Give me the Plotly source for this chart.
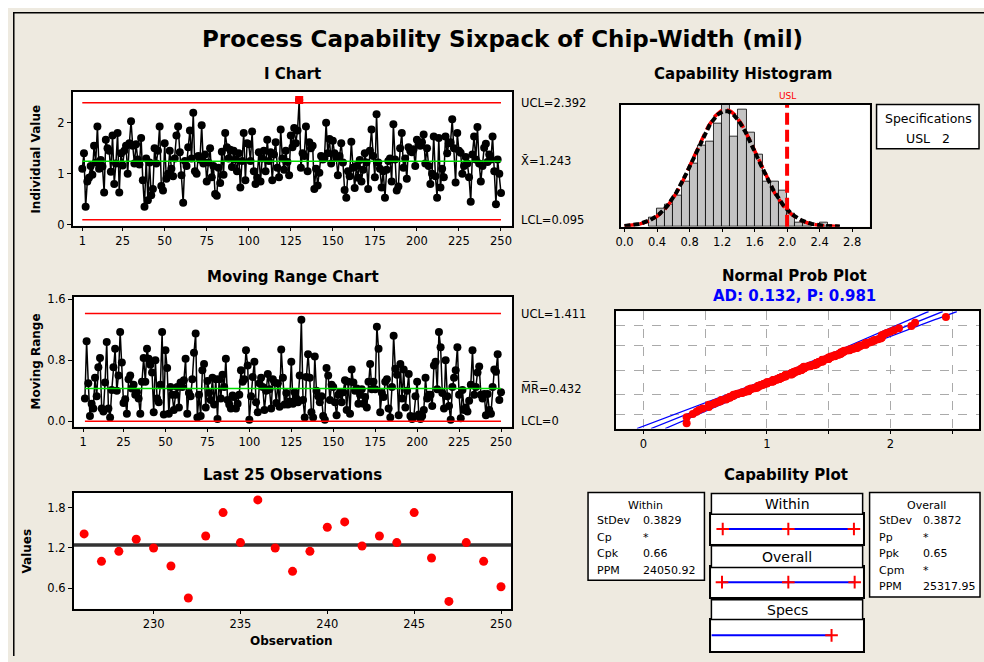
import plotly.graph_objects as go
from statistics import NormalDist

OFF = 8                    # page body margin: page pixel = figure pixel + OFF
W, H = 984 - OFF, 662 - OFF

# ---------------- data ----------------
chip_width = [
    1.10, 1.40, 0.35, 0.85, 0.92, 1.15, 0.98, 1.55, 1.22, 1.93, 1.10, 1.27, 1.14, 0.63, 1.67, 1.50, 1.45, 1.04, 1.75, 0.80, 1.20, 1.80, 0.63, 1.40, 1.16,
    1.45, 1.55, 1.00, 1.60, 2.03, 1.55, 1.20, 1.58, 1.28, 1.18, 1.70, 0.87, 0.35, 1.30, 0.48, 1.22, 0.58, 0.70, 1.50, 1.20, 1.45, 1.93, 0.76, 0.67, 1.60,
    0.90, 1.00, 1.45, 1.10, 0.95, 1.30, 1.75, 1.93, 1.42, 0.97, 0.43, 1.25, 1.15, 1.52, 1.85, 1.30, 2.20, 1.05, 1.00, 1.35, 1.28, 1.95, 1.20, 1.38, 0.85,
    1.22, 1.50, 0.93, 1.15, 0.60, 0.57, 1.12, 0.82, 1.43, 0.98, 1.80, 1.52, 1.30, 1.47, 1.13, 1.45, 1.28, 1.05, 1.40, 0.73, 1.25, 1.80, 0.87, 1.60, 1.58,
    1.25, 1.83, 1.05, 0.80, 0.92, 1.42, 0.85, 1.30, 1.45, 1.05, 1.67, 1.25, 1.42, 0.87, 1.38, 1.62, 1.12, 0.93, 1.87, 1.30, 1.08, 1.45, 1.23, 0.97, 1.75,
    1.52, 1.90, 1.60, 1.85, 2.45, 1.12, 1.40, 1.35, 1.93, 1.05, 1.62, 1.50, 1.55, 0.70, 1.10, 0.77, 1.02, 1.35, 1.28, 1.30, 2.00, 1.40, 1.68, 1.20, 1.65,
    1.40, 1.32, 0.97, 1.35, 1.60, 1.22, 0.68, 0.53, 1.05, 0.95, 1.63, 1.12, 0.72, 1.15, 0.92, 1.27, 0.85, 1.08, 1.40, 1.22, 0.70, 1.45, 1.87, 1.35, 0.93,
    2.17, 1.22, 1.10, 0.73, 1.05, 0.53, 1.08, 1.25, 1.30, 0.85, 1.97, 1.28, 0.67, 0.75, 1.50, 1.80, 1.12, 1.30, 0.90, 1.52, 1.45, 1.42, 1.48, 1.15, 1.67,
    1.58, 1.55, 1.62, 1.77, 1.20, 1.50, 1.15, 0.80, 1.00, 1.73, 0.95, 0.53, 1.70, 0.73, 1.10, 0.93, 1.73, 1.40, 1.60, 1.62, 2.07, 1.50, 0.83, 1.80, 1.45,
    1.41, 1.00, 1.15, 1.33, 1.20, 0.93, 0.45, 1.38, 1.73, 1.28, 1.92, 1.20, 0.85, 1.15, 1.51, 1.59, 1.23, 1.38, 1.28, 1.73, 1.05, 0.40, 1.28, 1.00, 0.62,
]
obs_index = list(range(1, len(chip_width) + 1))
ooc_obs = [130]            # out-of-control observation (test 1)

MEAN = 1.243
UCL_I, LCL_I = 2.392, 0.095
MR_BAR, UCL_MR, LCL_MR = 0.432, 1.411, 0.0
USL = 2.0
SD_WITHIN, SD_OVERALL = 0.3829, 0.3872
HIST_START, HIST_END, HIST_BIN = 0.3, 2.5, 0.1

i_ticks = [1, 25, 50, 75, 100, 125, 150, 175, 200, 225, 250]
mr_ticks = [0.0, 0.8, 1.6]
last_ticks = [230, 235, 240, 245, 250]
last_yticks = [0.6, 1.2, 1.8]
hist_ticks = [0.0, 0.4, 0.8, 1.2, 1.6, 2.0, 2.4, 2.8]
npp_ticks = [0, 0.5, 1, 1.5, 2, 2.5]
npp_ticktext = ["0", "", "1", "", "2", ""]
npp_grid_pct = [0.01, 0.10, 0.50, 0.90, 0.99]

within_rows = [("StDev", "0.3829"), ("Cp", "*"), ("Cpk", "0.66"), ("PPM", "24050.92")]
overall_rows = [("StDev", "0.3872"), ("Pp", "*"), ("Ppk", "0.65"), ("Cpm", "*"), ("PPM", "25317.95")]

# ---------------- derived ----------------
n = len(chip_width)
mr_x = obs_index[1:]
mr_vals = [abs(chip_width[i] - chip_width[i - 1]) for i in range(1, n)]
last_x = obs_index[-25:]
last_y = chip_width[-25:]
nd = NormalDist()
sorted_vals = sorted(chip_width)
npp_z = [nd.inv_cdf((i - 0.3) / (n + 0.4)) for i in range(1, n + 1)]

BG = "#EEEAE0"
FONT = "DejaVu Sans"
TICKF = dict(family=FONT, size=11.5, color="black")


def px_x(p):
    return (p - OFF) / W


def px_y(p):
    return 1 - (p - OFF) / H


def dom(x0, x1, y0, y1):
    return dict(domain=[px_x(x0), px_x(x1)]), dict(domain=[px_y(y1), px_y(y0)])


fig = go.Figure()

# ---- I chart ----
fig.add_trace(go.Scatter(x=obs_index, y=chip_width, mode="lines+markers",
                         line=dict(color="black", width=1.5),
                         marker=dict(color="black", size=8), xaxis="x", yaxis="y"))
for yv, col in [(UCL_I, "red"), (LCL_I, "red"), (MEAN, "#00DD00")]:
    fig.add_trace(go.Scatter(x=[1, n], y=[yv, yv], mode="lines",
                             line=dict(color=col, width=1.5), xaxis="x", yaxis="y"))
fig.add_trace(go.Scatter(x=ooc_obs, y=[chip_width[o - 1] for o in ooc_obs], mode="markers+text",
                         marker=dict(color="red", size=8, symbol="square"),
                         text=["1"] * len(ooc_obs), textposition="top center",
                         textfont=dict(family=FONT, size=9, color="black"),
                         xaxis="x", yaxis="y"))

# ---- MR chart ----
fig.add_trace(go.Scatter(x=mr_x, y=mr_vals, mode="lines+markers",
                         line=dict(color="black", width=1.5),
                         marker=dict(color="black", size=8), xaxis="x2", yaxis="y2"))
for yv, col in [(UCL_MR, "red"), (LCL_MR, "red"), (MR_BAR, "#00DD00")]:
    fig.add_trace(go.Scatter(x=[2, n], y=[yv, yv], mode="lines",
                             line=dict(color=col, width=1.5), xaxis="x2", yaxis="y2"))

# ---- Last 25 ----
fig.add_trace(go.Scatter(x=[225.4, 250.6], y=[MEAN, MEAN], mode="lines",
                         line=dict(color="#333333", width=3.5), xaxis="x3", yaxis="y3"))
fig.add_trace(go.Scatter(x=last_x, y=last_y, mode="markers",
                         marker=dict(color="red", size=9), xaxis="x3", yaxis="y3"))

# ---- Histogram ----
fig.add_trace(go.Histogram(x=chip_width, xbins=dict(start=HIST_START, end=HIST_END, size=HIST_BIN),
                           marker=dict(color="#C4C4C4", line=dict(color="black", width=0.8)),
                           xaxis="x4", yaxis="y4"))
cx = [i * 0.01 for i in range(0, 266)]
for sd, col, dash, wd in [(SD_WITHIN, "red", "10px,5px", 3.5), (SD_OVERALL, "black", "6px,3px", 4)]:
    dist = NormalDist(MEAN, sd)
    fig.add_trace(go.Scatter(x=cx, y=[n * HIST_BIN * dist.pdf(v) for v in cx], mode="lines",
                             line=dict(color=col, width=wd, dash=dash), xaxis="x4", yaxis="y4"))
fig.add_trace(go.Scatter(x=[USL, USL], y=[0, 27.2], mode="lines",
                         line=dict(color="red", width=4, dash="12px,5px"), xaxis="x4", yaxis="y4"))

# ---- Normal probability plot ----
zz = [-3.05 + i * 0.061 for i in range(101)]
se = [SD_OVERALL * ((1 / n) + z * z / (2 * (n - 1))) ** 0.5 for z in zz]
fit = [MEAN + SD_OVERALL * z for z in zz]
for k in (-1.96, 0, 1.96):
    fig.add_trace(go.Scatter(x=[f + k * s for f, s in zip(fit, se)], y=zz, mode="lines",
                             line=dict(color="blue", width=1.3), xaxis="x5", yaxis="y5"))
fig.add_trace(go.Scatter(x=sorted_vals, y=npp_z, mode="markers",
                         marker=dict(color="red", size=8), xaxis="x5", yaxis="y5"))

# ---- Capability plot bars ----
cap_sets = [
    ("x6", "y6", [MEAN - 3 * SD_WITHIN, MEAN, MEAN + 3 * SD_WITHIN]),
    ("x7", "y7", [MEAN - 3 * SD_OVERALL, MEAN, MEAN + 3 * SD_OVERALL]),
]
CROSS = dict(symbol="cross-thin", size=9, line=dict(color="red", width=2))
for xa, ya, pts in cap_sets:
    fig.add_trace(go.Scatter(x=[pts[0], pts[-1]], y=[0.5, 0.5], mode="lines",
                             line=dict(color="blue", width=2), xaxis=xa, yaxis=ya))
    fig.add_trace(go.Scatter(x=pts, y=[0.5] * 3, mode="markers", marker=CROSS,
                             xaxis=xa, yaxis=ya))
fig.add_trace(go.Scatter(x=[-0.104, USL], y=[0.5, 0.5], mode="lines",
                         line=dict(color="blue", width=2), xaxis="x8", yaxis="y8"))
fig.add_trace(go.Scatter(x=[USL], y=[0.5], mode="markers", marker=CROSS,
                         xaxis="x8", yaxis="y8"))

# ---------------- axes ----------------
base = dict(showline=True, mirror=True, linecolor="black", linewidth=1.5,
            showgrid=False, zeroline=False, ticks="outside", ticklen=4,
            tickcolor="black", tickfont=TICKF)
blank = dict(showline=True, mirror=True, linecolor="black", linewidth=1.5,
             showgrid=False, zeroline=False, showticklabels=False, ticks="", fixedrange=True)

layout = {}
xd, yd = dom(68, 510, 89, 225)
layout["xaxis"] = dict(base, **xd, range=[-4.7, 256.8], tickvals=i_ticks, anchor="y")
layout["yaxis"] = dict(base, **yd, range=[-0.02, 2.61], tickvals=[0, 1, 2], anchor="x")
xd, yd = dom(69, 510, 297, 429)
layout["xaxis2"] = dict(base, **xd, range=[-4.7, 256.8], tickvals=i_ticks, anchor="y2")
layout["yaxis2"] = dict(base, **yd, range=[-0.068, 1.634], tickvals=mr_ticks, tickformat=".1f", anchor="x2")
xd, yd = dom(69, 509, 496, 614)
layout["xaxis3"] = dict(base, **xd, range=[225.4, 250.6], tickvals=last_ticks, anchor="y3")
layout["yaxis3"] = dict(base, **yd, range=[0.29, 2.03], tickvals=last_yticks, tickformat=".1f", anchor="x3")
xd, yd = dom(619, 869, 102, 226)
layout["xaxis4"] = dict(base, **xd, range=[-0.045, 3.015], tickvals=hist_ticks, tickformat=".1f", anchor="y4")
layout["yaxis4"] = dict(blank, **yd, range=[0, 27.2], anchor="x4")
xd, yd = dom(614, 979, 312, 431)
layout["xaxis5"] = dict(base, **xd, range=[-0.223, 2.718], tickvals=npp_ticks, ticktext=npp_ticktext,
                        showgrid=True, gridcolor="#AAAAAA", griddash="dash", gridwidth=1, anchor="y5")
layout["yaxis5"] = dict(base, **yd, range=[-3.05, 3.06], tickvals=[nd.inv_cdf(p) for p in npp_grid_pct],
                        showticklabels=False, ticks="", showgrid=True, gridcolor="#AAAAAA",
                        griddash="dash", gridwidth=1, anchor="x5")
for i, (y0, y1) in zip((6, 7, 8), [(518, 548), (572, 602), (625, 657)]):
    xd, yd = dom(710, 862, y0, y1)
    layout[f"xaxis{i}"] = dict(blank, **xd, range=[-0.104, 2.544], anchor=f"y{i}")
    layout[f"yaxis{i}"] = dict(blank, **yd, range=[0, 1], anchor=f"x{i}")

# ---------------- annotations ----------------
ann = []


def text(x, y, s, size=12, bold=False, color="black", xanchor="center", yref="paper",
         ypx=True, angle=0):
    ann.append(dict(x=px_x(x), y=px_y(y) if ypx else y, xref="paper", yref=yref,
                    text=f"<b>{s}</b>" if bold else s, showarrow=False, textangle=angle,
                    xanchor=xanchor, yanchor="middle",
                    font=dict(family=FONT, size=size, color=color)))


text(500, 35, "Process Capability Sixpack of Chip-Width (mil)", size=23, bold=True)
text(289, 71, "I Chart", size=15, bold=True)
text(289, 277, "Moving Range Chart", size=15, bold=True)
text(289, 478, "Last 25 Observations", size=15, bold=True)
text(742, 71, "Capability Histogram", size=15, bold=True)
text(794, 276, "Normal Prob Plot", size=15, bold=True)
text(794, 296, "AD: 0.132, P: 0.981", size=15, bold=True, color="blue")
text(785, 478, "Capability Plot", size=15, bold=True)
text(786, 93, "USL", size=9, color="red")

# axis titles
text(31, 157, "Individual Value", size=12, bold=True, angle=-90)
text(31, 363, "Moving Range", size=12, bold=True, angle=-90)
text(22, 555, "Values", size=12, bold=True, angle=-90)
text(288, 647, "Observation", size=12, bold=True)

for yv, lab in [(UCL_I, f"UCL={UCL_I}"), (MEAN, f"X\u0304={MEAN}"), (LCL_I, f"LCL={LCL_I}")]:
    text(517, yv, lab, size=11.5, xanchor="left", yref="y", ypx=False)
for yv, lab in [(UCL_MR, f"UCL={UCL_MR}"), (MR_BAR, f"M\u0305R\u0305={MR_BAR}"), (LCL_MR, "LCL=0")]:
    text(517, yv, lab, size=11.5, xanchor="left", yref="y2", ypx=False)

# specifications box
text(928, 116, "Specifications", size=12.5)
text(928, 136, "USL   2", size=12.5)

# capability tables
text(644, 509, "Within", size=11)
for k, (a, b) in enumerate(within_rows):
    yy = 524.5 + k * 16.8
    text(593, yy, a, size=11, xanchor="left")
    text(639, yy, b, size=11, xanchor="left")
text(926, 509, "Overall", size=11)
for k, (a, b) in enumerate(overall_rows):
    yy = 524.5 + k * 16.8
    text(876, yy, a, size=11, xanchor="left")
    text(921, yy, b, size=11, xanchor="left")
for yy, lab in [(508, "Within"), (561, "Overall"), (615, "Specs")]:
    text(786, yy, lab, size=14)

# ---------------- shapes ----------------
shapes = []


def rect(x0, y0, x1, y1, fill="white", lw=1.5):
    shapes.append(dict(type="rect", xref="paper", yref="paper",
                       x0=px_x(x0), x1=px_x(x1), y0=px_y(y1), y1=px_y(y0),
                       fillcolor=fill, line=dict(color="black", width=lw), layer="above"))


# figure frame (left and top edges)
shapes.append(dict(type="line", xref="paper", yref="paper", x0=0.0008, x1=0.0008, y0=0, y1=1,
                   line=dict(color="black", width=1.5), layer="above"))
shapes.append(dict(type="line", xref="paper", yref="paper", x0=0, x1=1, y0=0.9988, y1=0.9988,
                   line=dict(color="black", width=1.5), layer="above"))

rect(876, 102, 979, 147)          # specifications
rect(586, 496, 703, 585)          # within table
rect(869, 496, 980, 602)          # overall table
rect(710, 497, 862, 518)          # within header
rect(710, 550, 862, 572)          # overall header
rect(710, 605, 862, 625)          # specs header

fig.update_layout(**layout)
fig.update_layout(shapes=shapes, annotations=ann)
fig.update_layout(width=W, height=H, margin=dict(l=0, r=0, t=0, b=0),
                  paper_bgcolor=BG, plot_bgcolor="white", showlegend=False,
                  bargap=0, font=dict(family=FONT, color="black"))

fig.write_html("out.html",
               post_script="document.body.style.margin='8px 0 0 8px';"
                           "document.documentElement.style.overflow='hidden';"
                           "document.body.style.overflow='hidden';")
